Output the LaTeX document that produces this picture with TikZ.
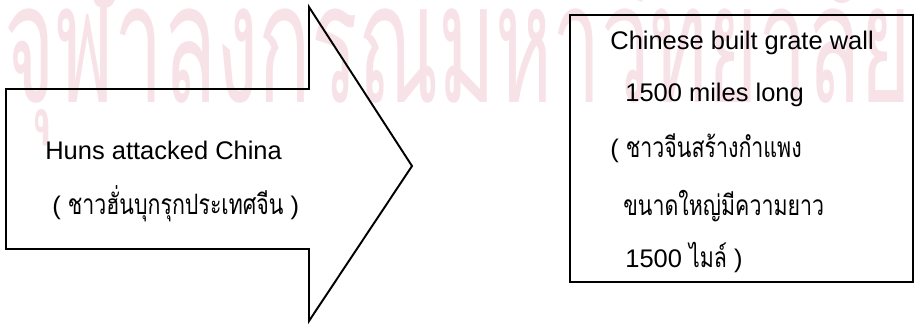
\documentclass[tikz,border=0pt]{standalone}
\usepackage{fontspec}
\setmainfont{Liberation Sans}
\newfontfamily\thaifont[Script=Thai, FakeStretch=0.76]{Loma}
\newfontfamily\markfont[Script=Thai, FakeStretch=0.52]{Loma}
\usetikzlibrary{shapes, arrows}
\definecolor{markpink}{RGB}{247,226,232}

\begin{document}
\begin{tikzpicture}[x=0.02cm, y=-0.02cm]
        \tikzstyle{outline} = [draw=black, line width=1.1pt, line join=miter]
        \tikzstyle{wallbox} = [rectangle, draw=black, line width=1.5pt, minimum width=6.86cm, minimum height=5.34cm, inner sep=0pt]
        \tikzstyle{txt} = [anchor=base west, inner sep=0pt, font=\fontsize{14.5}{17}\selectfont]
        \tikzstyle{thaitxt} = [anchor=base west, inner sep=0pt, font=\fontsize{14.5}{17}\selectfont]
        \useasboundingbox (0,0) rectangle (915,325);

        \node (mark) [anchor=base west, inner sep=0pt, text=markpink, font=\fontsize{95}{100}\markfont] at (4,102) {จุฬาลงกรณ์มหาวิทยาลัย};

        \draw[outline] (6,89) -- (309,89) -- (309,7) -- (412,166) -- (309,321) -- (309,249) -- (6,249) -- cycle;
        \node (huns) [txt] at (45,159) {Huns attacked China};
        \node (hunsth) [thaitxt] at (52,214) {( {\fontsize{16}{18}\thaifont ชาวฮั่นบุกรุกประเทศจีน} )};

        \node (wall) [wallbox] at (741.5,148.5) {};
        \node (w1) [txt] at (610,49) {Chinese built grate wall};
        \node (w2) [txt] at (625,101) {1500 miles long};
        \node (w3) [thaitxt] at (610,157) {( {\fontsize{16}{18}\thaifont ชาวจีนสร้างกำแพง}};
        \node (w4) [thaitxt] at (623,215) {{\fontsize{16}{18}\thaifont ขนาดใหญ่มีความยาว}};
        \node (w5) [thaitxt] at (625,267) {1500 {\fontsize{16}{18}\thaifont ไมล์} )};
\end{tikzpicture}
\end{document}
